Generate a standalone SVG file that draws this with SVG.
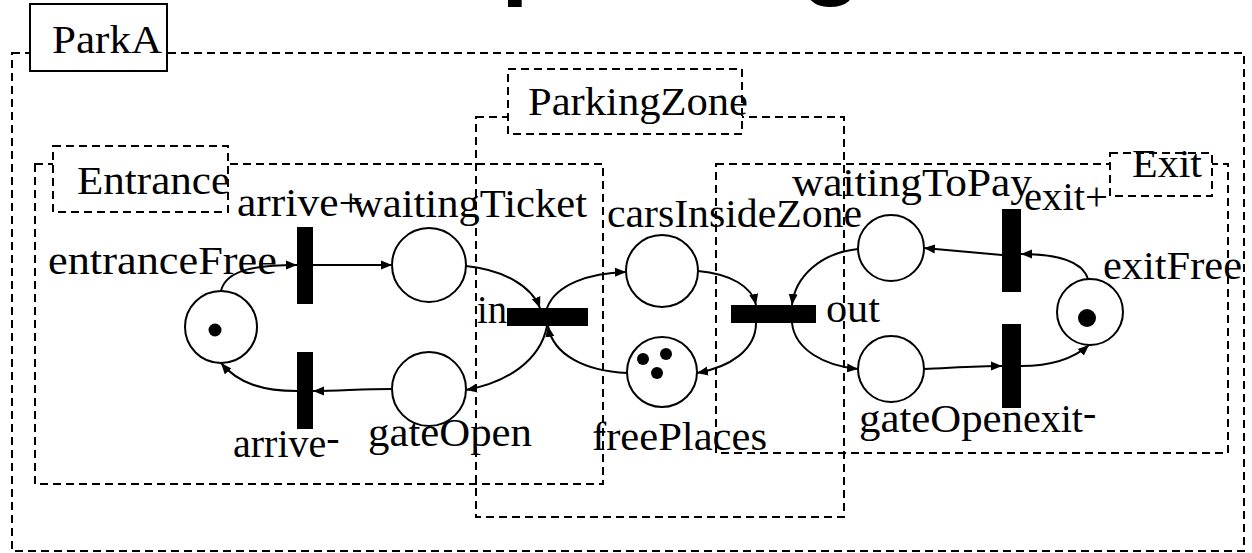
<svg xmlns="http://www.w3.org/2000/svg" width="1252" height="553" viewBox="0 0 1252 553">
<style>
.zone{fill:none;stroke:#000;stroke-width:2;stroke-dasharray:8 5}
.zlabel{fill:#fff;stroke:#000;stroke-width:2;stroke-dasharray:8 5}
.place{fill:#fff;stroke:#000;stroke-width:2}
.tok{fill:#000}
.trans{fill:#000}
.arc{fill:none;stroke:#000;stroke-width:2;marker-end:url(#ah)}
text{font-family:"Liberation Serif","Times New Roman",serif;font-size:40px;fill:#000}
.title{font-family:"Liberation Sans",Arial,sans-serif;font-weight:bold;font-size:100px}
</style>
<defs>
<marker id="ah" markerUnits="userSpaceOnUse" markerWidth="12" markerHeight="10" refX="11" refY="5" orient="auto">
<path d="M0,0.5 L11,5 L0,9.5 z" fill="#000"/>
</marker>
</defs>
<text class="title" x="501" y="-14">parking</text>
<g id="ParkA">
<rect class="zone" x="12" y="53" width="1232" height="498"/>
<rect x="30" y="4" width="137" height="67" fill="#fff" stroke="#000" stroke-width="2"/>
<text x="52" y="53" textLength="110" lengthAdjust="spacingAndGlyphs">ParkA</text>
</g>
<g id="Entrance">
<rect class="zone" x="35" y="164" width="568" height="320"/>
<rect class="zlabel" x="53" y="146" width="175" height="66"/>
<text x="77" y="194" textLength="153" lengthAdjust="spacingAndGlyphs">Entrance</text>
</g>
<g id="ParkingZone">
<rect class="zone" x="476" y="117" width="368" height="400"/>
<rect class="zlabel" x="508" y="69" width="234" height="65"/>
<text x="528" y="115" textLength="220" lengthAdjust="spacingAndGlyphs">ParkingZone</text>
</g>
<g id="Exit">
<rect class="zone" x="716" y="164" width="512" height="289"/>
<rect class="zlabel" x="1110" y="153" width="102" height="43"/>
<text x="1132" y="177" textLength="70" lengthAdjust="spacingAndGlyphs">Exit</text>
</g>
<g id="connectors">
<path class="arc" d="M 221 291 C 226 268, 262 265, 297 265"/>
<path class="arc" d="M 313 265 L 392 265"/>
<path class="arc" d="M 466 266 C 505 270, 532 287, 540 308"/>
<path class="arc" d="M 547 308 C 556 284, 590 273, 626 272"/>
<path class="arc" d="M 627 373 C 585 371, 553 355, 548 326"/>
<path class="arc" d="M 547 326 C 540 362, 505 383, 466 390"/>
<path class="arc" d="M 392 389 C 360 389, 340 391, 313 391"/>
<path class="arc" d="M 297 391 C 262 391, 238 383, 221 363"/>
<path class="arc" d="M 698 271 C 730 274, 752 286, 756 305"/>
<path class="arc" d="M 858 249 C 820 253, 795 277, 792 305"/>
<path class="arc" d="M 756 323 C 756 350, 730 367, 697 373"/>
<path class="arc" d="M 792 323 C 795 350, 825 366, 858 369"/>
<path class="arc" d="M 1002 255 L 924 248"/>
<path class="arc" d="M 1088 279 C 1082 260, 1055 254, 1021 254"/>
<path class="arc" d="M 924 369 C 950 368, 975 366, 1002 366"/>
<path class="arc" d="M 1021 366 C 1050 366, 1072 360, 1089 345"/>
</g>
<g id="entranceFree">
<circle class="place" cx="221" cy="327" r="36"/>
<circle class="tok" cx="215" cy="330" r="6.5"/>
<text x="48" y="274" textLength="229" lengthAdjust="spacingAndGlyphs">entranceFree</text>
</g>
<g id="arrivePlus">
<rect class="trans" x="297" y="227" width="16" height="77"/>
<text x="237" y="216" textLength="126" lengthAdjust="spacingAndGlyphs">arrive+</text>
</g>
<g id="arriveMinus">
<rect class="trans" x="297" y="352" width="16" height="77"/>
<text x="233" y="457">arrive<tspan dy="-6">-</tspan></text>
</g>
<g id="waitingTicket">
<circle class="place" cx="429" cy="265" r="37"/>
<text x="352" y="217" textLength="235" lengthAdjust="spacingAndGlyphs">waitingTicket</text>
</g>
<g id="gateOpen">
<circle class="place" cx="429" cy="389" r="37"/>
<text x="368" y="446" textLength="164" lengthAdjust="spacingAndGlyphs">gateOpen</text>
</g>
<g id="in">
<rect class="trans" x="507" y="308" width="81" height="18"/>
<text x="477" y="323" textLength="30" lengthAdjust="spacingAndGlyphs">in</text>
</g>
<g id="carsInsideZone">
<circle class="place" cx="662" cy="271" r="36"/>
<text x="607" y="227" textLength="255" lengthAdjust="spacingAndGlyphs">carsInsideZone</text>
</g>
<g id="freePlaces">
<circle class="place" cx="662" cy="372" r="35"/>
<circle class="tok" cx="643" cy="359" r="6"/>
<circle class="tok" cx="666" cy="354" r="6"/>
<circle class="tok" cx="657" cy="373" r="6"/>
<text x="592" y="450" textLength="175" lengthAdjust="spacingAndGlyphs">freePlaces</text>
</g>
<g id="out">
<rect class="trans" x="731" y="305" width="85" height="18"/>
<text x="826" y="322" textLength="54" lengthAdjust="spacingAndGlyphs">out</text>
</g>
<g id="waitingToPay">
<circle class="place" cx="891" cy="248" r="33"/>
<text x="792" y="196" textLength="240" lengthAdjust="spacingAndGlyphs">waitingToPay</text>
</g>
<g id="gateOpenExit">
<circle class="place" cx="891" cy="369" r="33"/>
<text x="859" y="432" textLength="164" lengthAdjust="spacingAndGlyphs">gateOpen</text>
</g>
<g id="exitPlus">
<rect class="trans" x="1002" y="209" width="19" height="83"/>
<text x="1024" y="210" textLength="84" lengthAdjust="spacingAndGlyphs">exit+</text>
</g>
<g id="exitMinus">
<rect class="trans" x="1002" y="324" width="19" height="84"/>
<text x="1023" y="432">exit<tspan dy="-6">-</tspan></text>
</g>
<g id="exitFree">
<circle class="place" cx="1090" cy="312" r="33"/>
<circle class="tok" cx="1087" cy="318" r="9"/>
<text x="1103" y="279" textLength="139" lengthAdjust="spacingAndGlyphs">exitFree</text>
</g>
</svg>
